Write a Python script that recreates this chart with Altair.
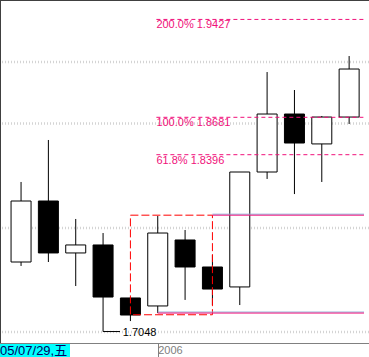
import altair as alt
import pandas as pd

# ---- candle data (monthly bars) ----
idx    = list(range(13))
opens  = [1.7578, 1.8043, 1.7647, 1.7708, 1.7304, 1.7243, 1.7746, 1.7540, 1.7388, 1.8264, 1.8706, 1.8478, 1.8683]
highs  = [1.8188, 1.8508, 1.7906, 1.7799, 1.7310, 1.7929, 1.7822, 1.7632, 1.8264, 1.9026, 1.8889, 1.8691, 1.9148]
lows   = [1.7548, 1.7578, 1.7395, 1.7048, 1.7128, 1.7189, 1.7289, 1.7250, 1.7250, 1.8211, 1.8096, 1.8188, 1.8630]
closes = [1.8043, 1.7647, 1.7708, 1.7311, 1.7174, 1.7799, 1.7540, 1.7372, 1.8264, 1.8706, 1.8485, 1.8683, 1.9049]

# ---- fibonacci projection ----
fib_levels = [1.9427, 1.8681, 1.8396]
fib_labels = ["200.0% 1.9427", "100.0% 1.8681", "61.8% 1.8396"]
fib_start = [4.95, 4.95, 4.95]

base_levels = [1.7935, 1.7189]
base_start = [7, 5]

rect_x = [4, 7]
rect_y = [1.7935, 1.7176]

grid_levels = [1.9103, 1.8633, 1.7837, 1.7045]

low_value = [1.7048]
low_label = ["1.7048"]
low_from = [3]
low_to = [3.62]
low_text_x = [3.72]

tick_pos = [5]
tick_labels = ["2006"]
date_label = ["05/07/29,五"]

X_DOMAIN = [-0.587, 12.544]
Y_DOMAIN = [1.69607, 1.95751]
X_END = X_DOMAIN[1]

PINK = "#f0107a"
FONT = "Liberation Sans"

def xs():
    return alt.Scale(domain=X_DOMAIN, nice=False, zero=False)

def ys():
    return alt.Scale(domain=Y_DOMAIN, nice=False, zero=False)

candles = pd.DataFrame({
    "i": idx, "open": opens, "high": highs, "low": lows, "close": closes,
})
candles["top"] = candles[["open", "close"]].max(axis=1)
candles["bot"] = candles[["open", "close"]].min(axis=1)
candles["dir"] = ["up" if c >= o else "down" for o, c in zip(opens, closes)]

label_expr = " : ".join(
    [f"datum.value == {p} ? ' {t}'" for p, t in zip(tick_pos, tick_labels)] + ["''"]
)

x_axis = alt.Axis(
    values=tick_pos, labelExpr=label_expr, title=None, grid=False,
    domainColor="#808080", tickColor="#808080", tickSize=14,
    labelColor="#808080", labelFont=FONT, labelFontSize=11,
    labelAlign="left", labelBaseline="top", labelPadding=-13,
)
y_axis = alt.Axis(
    title=None, grid=False, ticks=False, labels=False,
    domainColor="#404040",
)

grid = alt.Chart(pd.DataFrame({"p": grid_levels})).mark_rule(
    color="#d4d4d4", strokeDash=[1, 2], strokeWidth=2.5
).encode(y=alt.Y("p:Q", scale=ys(), axis=y_axis))

wicks = alt.Chart(candles).mark_rule(color="black", strokeWidth=1).encode(
    x=alt.X("i:Q", scale=xs(), axis=x_axis),
    y=alt.Y("low:Q", scale=ys()),
    y2="high:Q",
)

bodies = alt.Chart(candles).mark_bar(size=20, stroke="black", strokeWidth=1).encode(
    x=alt.X("i:Q", scale=xs()),
    y=alt.Y("bot:Q", scale=ys()),
    y2="top:Q",
    fill=alt.Fill("dir:N", scale=alt.Scale(domain=["up", "down"], range=["white", "black"]), legend=None),
)

rect = alt.Chart(pd.DataFrame({"x0": [rect_x[0]], "x1": [rect_x[1]], "y0": [rect_y[0]], "y1": [rect_y[1]]})).mark_rect(
    fillOpacity=0, stroke="#ff0000", strokeDash=[8, 3], strokeWidth=1
).encode(
    x=alt.X("x0:Q", scale=xs()), x2="x1:Q",
    y=alt.Y("y0:Q", scale=ys()), y2="y1:Q",
)

base_df = pd.DataFrame({"p": base_levels, "x0": base_start, "x1": [X_END] * len(base_levels)})
base_shadow = alt.Chart(base_df).mark_rule(color="#8fb0d8", strokeWidth=1, yOffset=-1).encode(
    x=alt.X("x0:Q", scale=xs()), x2="x1:Q",
    y=alt.Y("p:Q", scale=ys()),
)
base_lines = alt.Chart(base_df).mark_rule(color=PINK, strokeWidth=1).encode(
    x=alt.X("x0:Q", scale=xs()), x2="x1:Q",
    y=alt.Y("p:Q", scale=ys()),
)

fib_df = pd.DataFrame({"p": fib_levels, "label": fib_labels, "x0": fib_start, "x1": [X_END] * len(fib_levels)})
fib_lines = alt.Chart(fib_df).mark_rule(color=PINK, strokeDash=[4, 3], strokeWidth=1).encode(
    x=alt.X("x0:Q", scale=xs()), x2="x1:Q",
    y=alt.Y("p:Q", scale=ys()),
)
fib_text = alt.Chart(fib_df).mark_text(
    align="left", baseline="top", color=PINK, font=FONT, fontSize=11, dy=0
).encode(
    x=alt.X("x0:Q", scale=xs()),
    y=alt.Y("p:Q", scale=ys()),
    text="label:N",
)

low_df = pd.DataFrame({"p": low_value, "label": low_label, "x0": low_from, "x1": low_to, "xt": low_text_x})
low_line = alt.Chart(low_df).mark_rule(color="black", strokeWidth=1).encode(
    x=alt.X("x0:Q", scale=xs()), x2="x1:Q",
    y=alt.Y("p:Q", scale=ys()),
)
low_text = alt.Chart(low_df).mark_text(
    align="left", baseline="middle", color="black", font=FONT, fontSize=11, dy=1
).encode(
    x=alt.X("xt:Q", scale=xs()),
    y=alt.Y("p:Q", scale=ys()),
    text="label:N",
)

one = alt.Data(values=[{"label": date_label[0]}])
top_border = alt.Chart(one).mark_rule(color="#404040", strokeWidth=1).encode(
    x=alt.value(0), x2=alt.value(369), y=alt.value(0.5)
)
date_box = alt.Chart(one).mark_rect(color="#00ffff").encode(
    x=alt.value(0), x2=alt.value(70), y=alt.value(344), y2=alt.value(357)
)
date_text = alt.Chart(one).mark_text(
    align="left", baseline="middle", color="#000060", font=FONT + ", Noto Sans CJK SC", fontSize=13
).encode(
    x=alt.value(0), y=alt.value(351), text="label:N"
)

chart = alt.layer(
    grid, wicks, bodies, rect, base_shadow, base_lines, fib_lines, fib_text, low_line, low_text,
    top_border, date_box, date_text,
).properties(
    width=369, height=343,
    autosize=alt.AutoSizeParams(type="none"),
    padding={"left": 0, "top": 0, "right": 0, "bottom": 14},
    background="white",
).configure_view(stroke=None)

chart.save("out.html", embed_options={"renderer": "svg", "actions": False})
